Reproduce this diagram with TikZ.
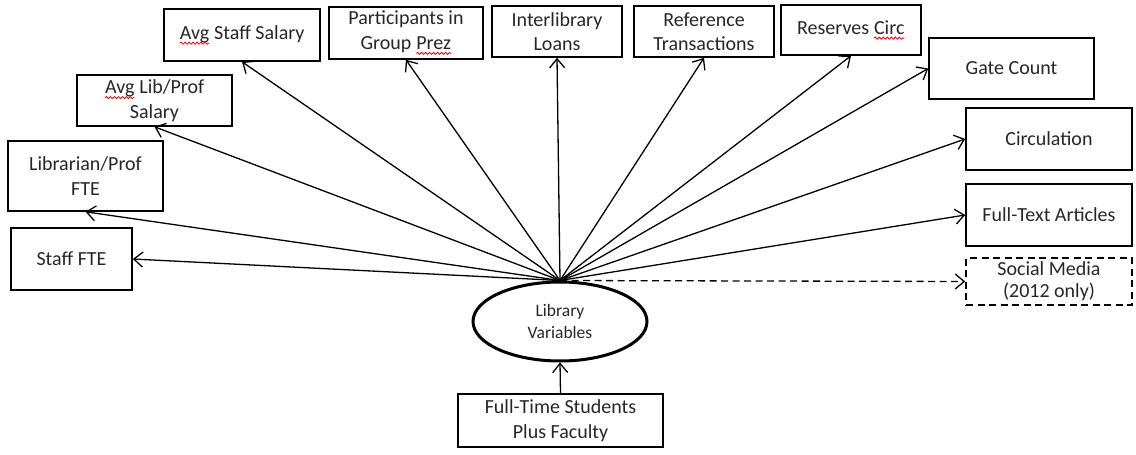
\documentclass[tikz,border=0pt]{standalone}
\usepackage{fontspec}
\setmainfont{Carlito}
\usetikzlibrary{arrows.meta,shapes.geometric,decorations.pathmorphing}
% red spell-check squiggle under a word
\newcommand{\spellmark}[1]{\tikz[baseline=(sw.base)]{%
  \node[minimum width=0pt,minimum height=0pt,inner sep=0pt,outer sep=0pt,draw=none,solid] (sw) {#1};
  \draw[red, solid, line width=0.8pt, decorate, decoration={snake,amplitude=1.1pt,segment length=4pt}]
    ([yshift=-4pt]sw.base west) -- ([yshift=-4pt]sw.base east);}}
\begin{document}
\begin{tikzpicture}[x=1pt,y=-1pt,
  varbox/.style={draw, line width=1.6pt, align=center, inner sep=0pt, text=black!85,
    font=\fontsize{20}{24.5}\selectfont},
  longdash/.style={dash pattern=on 7pt off 4.5pt},
  link/.style={line width=1.3pt, -{Straight Barb[length=9pt,width=15pt,line width=1.3pt]}},
  ]
\useasboundingbox (0,0) rectangle (1136,455);

% left column
\node[varbox, minimum width=121pt, minimum height=62pt] (stafffte) at (71.5,259) {Staff FTE};
\node[varbox, minimum width=155pt, minimum height=70pt] (libfte) at (85.5,176) {Librarian/Prof\\FTE};
\node[varbox, minimum width=155pt, minimum height=51pt] (avglib) at (154.5,100.5) {\spellmark{Avg} Lib/Prof\\Salary};

% top row
\node[varbox, minimum width=156pt, minimum height=52pt] (avgstaff) at (242,35) {\spellmark{Avg} Staff Salary};
\node[varbox, minimum width=154pt, minimum height=52pt] (partic) at (406,33) {Participants in\\Group \spellmark{Prez}};
\node[varbox, minimum width=130pt, minimum height=51pt] (ill) at (557,31.5) {Interlibrary\\Loans};
\node[varbox, minimum width=140pt, minimum height=51pt] (reftx) at (704,31.5) {Reference\\Transactions};
\node[varbox, minimum width=140pt, minimum height=50pt] (reserves) at (851,30) {Reserves \spellmark{Circ}};

% right column
\node[varbox, minimum width=165pt, minimum height=61pt] (gate) at (1011.5,68.5) {Gate Count};
\node[varbox, minimum width=166pt, minimum height=62pt] (circ) at (1049,139) {Circulation};
\node[varbox, minimum width=166pt, minimum height=62pt] (fulltext) at (1049,215) {Full-Text Articles};
\node[varbox, longdash, minimum width=166pt, minimum height=47pt,
  font=\fontsize{20}{22}\selectfont] (social) at (1049,281.5) {Social Media\\(2012 only)};

% central construct and its indicator
\node[ellipse, draw, line width=3pt, minimum width=174pt, minimum height=79pt, inner sep=0pt,
  align=center, text=black!85, font=\fontsize{17.5}{22}\selectfont] (libvars) at (560,321.5) {Library\\Variables};
\node[varbox, minimum width=205pt, minimum height=53pt] (students) at (560.5,420.5) {Full-Time Students\\Plus Faculty};

\coordinate (hub) at (libvars.north);

\draw[link] (hub) -- (stafffte.east);
\draw[link] (hub) -- (libfte.south);
\draw[link] (hub) -- (avglib.south);
\draw[link] (hub) -- (avgstaff.south);
\draw[link] (hub) -- (partic.south);
\draw[link] (hub) -- (ill.south);
\draw[link] (hub) -- (reftx.south);
\draw[link] (hub) -- (reserves.south);
\draw[link] (hub) -- (gate.west);
\draw[link] (hub) -- (circ.west);
\draw[link] (hub) -- (fulltext.west);
\draw[link, longdash] (hub) -- (social.west);
\draw[link] (students.north) -- (libvars.south);
\end{tikzpicture}
\end{document}
